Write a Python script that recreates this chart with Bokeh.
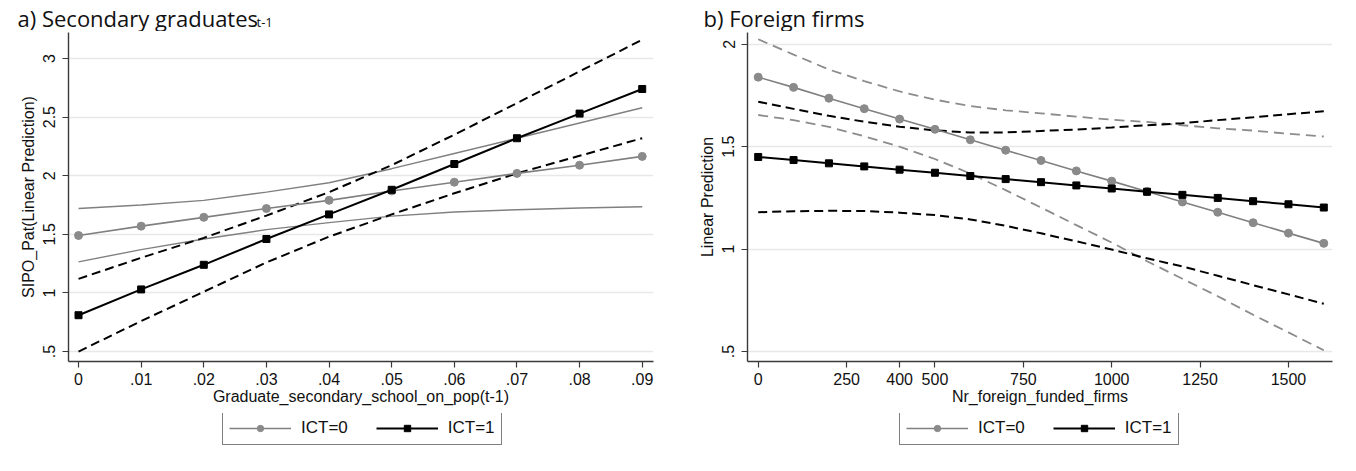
from bokeh.plotting import figure
from bokeh.layouts import row, column
from bokeh.models import FixedTicker, Label, Legend, LegendItem, Range1d
from bokeh.embed import file_html
from bokeh.resources import INLINE

# ---------------- Panel a) Secondary graduates(t-1) ----------------
a_x = [0.00, 0.01, 0.02, 0.03, 0.04, 0.05, 0.06, 0.07, 0.08, 0.09]
a_ict0 = [1.49, 1.57, 1.645, 1.72, 1.79, 1.87, 1.945, 2.02, 2.09, 2.165]
a_ict0_hi = [1.72, 1.75, 1.79, 1.86, 1.94, 2.06, 2.19, 2.32, 2.45, 2.58]
a_ict0_lo = [1.265, 1.37, 1.46, 1.54, 1.60, 1.655, 1.69, 1.71, 1.725, 1.735]
a_ict1 = [0.81, 1.03, 1.24, 1.46, 1.67, 1.88, 2.10, 2.32, 2.53, 2.74]
a_ict1_hi = [1.12, 1.30, 1.47, 1.66, 1.86, 2.09, 2.35, 2.62, 2.89, 3.16]
a_ict1_lo = [0.50, 0.76, 1.01, 1.26, 1.48, 1.67, 1.85, 2.02, 2.17, 2.32]
a_xticks = [0.00, 0.01, 0.02, 0.03, 0.04, 0.05, 0.06, 0.07, 0.08, 0.09]
a_xtick_labels = ["0", ".01", ".02", ".03", ".04", ".05", ".06", ".07", ".08", ".09"]
a_yticks = [0.5, 1.0, 1.5, 2.0, 2.5, 3.0]
a_ytick_labels = [".5", "1", "1.5", "2", "2.5", "3"]

# ---------------- Panel b) Foreign firms ----------------
b_x = [0, 100, 200, 300, 400, 500, 600, 700, 800, 900, 1000, 1100, 1200, 1300, 1400, 1500, 1600]
b_ict0 = [1.84, 1.79, 1.737, 1.686, 1.635, 1.585, 1.534, 1.483, 1.433, 1.382, 1.332, 1.281, 1.23, 1.18, 1.129, 1.078, 1.028]
b_ict0_hi = [2.025, 1.95, 1.877, 1.821, 1.77, 1.73, 1.699, 1.678, 1.663, 1.647, 1.632, 1.621, 1.605, 1.59, 1.579, 1.563, 1.55]
b_ict0_lo = [1.655, 1.63, 1.597, 1.551, 1.50, 1.44, 1.369, 1.288, 1.203, 1.117, 1.032, 0.941, 0.855, 0.77, 0.679, 0.593, 0.506]
b_ict1 = [1.45, 1.435, 1.419, 1.404, 1.388, 1.373, 1.357, 1.342, 1.327, 1.311, 1.296, 1.280, 1.265, 1.250, 1.234, 1.219, 1.203]
b_ict1_hi = [1.72, 1.685, 1.651, 1.622, 1.598, 1.58, 1.569, 1.57, 1.577, 1.584, 1.594, 1.605, 1.615, 1.63, 1.644, 1.659, 1.673]
b_ict1_lo = [1.18, 1.185, 1.187, 1.186, 1.178, 1.166, 1.145, 1.114, 1.077, 1.038, 0.998, 0.955, 0.915, 0.87, 0.824, 0.779, 0.733]
b_xticks = [0, 250, 400, 500, 750, 1000, 1250, 1500]
b_xtick_labels = ["0", "250", "400", "500", "750", "1000", "1250", "1500"]
b_yticks = [0.5, 1.0, 1.5, 2.0]
b_ytick_labels = [".5", "1", "1.5", "2"]

legend_labels = ["ICT=0", "ICT=1"]

GRAY = "#808080"
GRAY_M = "#8a8a8a"
AX = "#3a3a3a"
FONT = "Liberation Sans"
TFONT = "Open Sans"
TXT = "#111111"


def style(p, xticks, xlabels, yticks, ylabels, xlabel, ylabel):
    p.outline_line_color = None
    p.background_fill_color = "white"
    p.border_fill_color = "white"
    p.xgrid.visible = False
    p.ygrid.grid_line_color = "#e8e8e8"
    p.ygrid.grid_line_width = 1.3
    p.xaxis.ticker = FixedTicker(ticks=xticks)
    p.yaxis.ticker = FixedTicker(ticks=yticks)
    p.xaxis.major_label_overrides = {t: l for t, l in zip(xticks, xlabels)}
    p.yaxis.major_label_overrides = {t: l for t, l in zip(yticks, ylabels)}
    p.yaxis.major_label_orientation = "vertical"
    for ax in (p.xaxis[0], p.yaxis[0]):
        ax.axis_line_color = AX
        ax.axis_line_width = 1.4
        ax.major_tick_line_color = AX
        ax.major_tick_line_width = 1.2
        ax.major_tick_out = 6
        ax.major_tick_in = 0
        ax.minor_tick_line_color = None
        ax.major_label_text_font = FONT
        ax.major_label_text_font_size = "16px"
        ax.major_label_text_color = TXT
        ax.axis_label_text_font = FONT
        ax.axis_label_text_font_size = "16px"
        ax.axis_label_text_font_style = "normal"
        ax.axis_label_text_color = TXT
    p.xaxis.axis_label = xlabel
    p.yaxis.axis_label = ylabel
    p.xaxis.major_label_standoff = 5
    p.xaxis.axis_label_standoff = 0
    p.yaxis.major_label_standoff = 7
    p.yaxis.axis_label_standoff = 4


def blank(width, height, xr, yr):
    f = figure(width=width, height=height, x_range=xr, y_range=yr,
               output_backend="svg", toolbar_location=None,
               x_axis_type=None, y_axis_type=None,
               min_border=0, min_border_left=0, min_border_right=0,
               min_border_top=0, min_border_bottom=0)
    f.outline_line_color = None
    f.grid.visible = False
    f.background_fill_color = "white"
    f.border_fill_color = "white"
    return f


# ---------- title strip ----------
tf = blank(1348, 31, Range1d(0, 1348), Range1d(0, 31))
tf.add_layout(Label(x=17, y=14, x_units="screen", y_units="screen", text="a) Secondary graduates",
                    text_font=TFONT, text_font_size="22px", text_color=TXT, text_baseline="middle"))
tf.add_layout(Label(x=256, y=10, x_units="screen", y_units="screen", text="t-1",
                    text_font=TFONT, text_font_size="13px", text_color=TXT, text_baseline="middle"))
tf.add_layout(Label(x=703, y=14, x_units="screen", y_units="screen", text="b) Foreign firms",
                    text_font=TFONT, text_font_size="22px", text_color=TXT, text_baseline="middle"))

# ---------- figure a ----------
pa = figure(width=675, height=382, x_range=Range1d(-0.0016, 0.0918), y_range=Range1d(0.415, 3.222),
            output_backend="svg", toolbar_location=None,
            min_border_left=68, min_border_right=22, min_border_top=1, min_border_bottom=52)
style(pa, a_xticks, a_xtick_labels, a_yticks, a_ytick_labels,
      "Graduate_secondary_school_on_pop(t-1)", "SIPO_Pat(Linear Prediction)")
pa.line(a_x, a_ict0_hi, line_color=GRAY, line_width=1.4)
pa.line(a_x, a_ict0_lo, line_color=GRAY, line_width=1.4)
pa.line(a_x, a_ict1_hi, line_color="black", line_width=2, line_dash="9 5")
pa.line(a_x, a_ict1_lo, line_color="black", line_width=2, line_dash="9 5")
pa.line(a_x, a_ict0, line_color=GRAY, line_width=1.6)
pa.scatter(a_x, a_ict0, marker="circle", size=8, fill_color=GRAY_M, line_color=GRAY_M)
pa.line(a_x, a_ict1, line_color="black", line_width=2)
pa.scatter(a_x, a_ict1, marker="square", size=7, fill_color="black", line_color="black")

# ---------- figure b ----------
pb = figure(width=673, height=382, x_range=Range1d(-30.3, 1624.6), y_range=Range1d(0.451, 2.058),
            output_backend="svg", toolbar_location=None,
            min_border_left=72, min_border_right=16, min_border_top=1, min_border_bottom=52)
style(pb, b_xticks, b_xtick_labels, b_yticks, b_ytick_labels,
      "Nr_foreign_funded_firms", "Linear Prediction")
pb.line(b_x, b_ict0_hi, line_color="#8c8c8c", line_width=1.8, line_dash="10 6")
pb.line(b_x, b_ict0_lo, line_color="#8c8c8c", line_width=1.8, line_dash="10 6")
pb.line(b_x, b_ict1_hi, line_color="black", line_width=2, line_dash="9 5")
pb.line(b_x, b_ict1_lo, line_color="black", line_width=2, line_dash="9 5")
pb.line(b_x, b_ict0, line_color=GRAY, line_width=1.6)
pb.scatter(b_x, b_ict0, marker="circle", size=8, fill_color=GRAY_M, line_color=GRAY_M)
pb.line(b_x, b_ict1, line_color="black", line_width=2)
pb.scatter(b_x, b_ict1, marker="square", size=7, fill_color="black", line_color="black")

# ---------- legend strip (series drawn off-range, used only as legend keys) ----------
lf = blank(1348, 50, Range1d(10000, 10001), Range1d(10000, 10001))


def legend_keys(xs, y0, y1, loc):
    l0 = lf.line(xs, y0, line_color=GRAY, line_width=1.6)
    s0 = lf.scatter(xs, y0, marker="circle", size=6, fill_color=GRAY_M, line_color=GRAY_M)
    l1 = lf.line(xs, y1, line_color="black", line_width=2)
    s1 = lf.scatter(xs, y1, marker="square", size=6, fill_color="black", line_color="black")
    leg = Legend(
        items=[LegendItem(label=legend_labels[0], renderers=[l0, s0]),
               LegendItem(label=legend_labels[1], renderers=[l1, s1])],
        orientation="horizontal", location=loc,
        border_line_color="black", border_line_width=1,
        background_fill_color="white", background_fill_alpha=1,
        padding=6, spacing=28, glyph_width=62, glyph_height=16, label_height=16,
        label_standoff=10, label_text_font=FONT, label_text_font_size="17px",
        label_text_color=TXT, margin=0,
    )
    lf.add_layout(leg)


legend_keys(a_x, a_ict0, a_ict1, (222, 18))
legend_keys(b_x, b_ict0, b_ict1, (899, 18))

layout = column(tf, row(pa, pb), lf)
open("out.html", "w").write(file_html(layout, INLINE))
